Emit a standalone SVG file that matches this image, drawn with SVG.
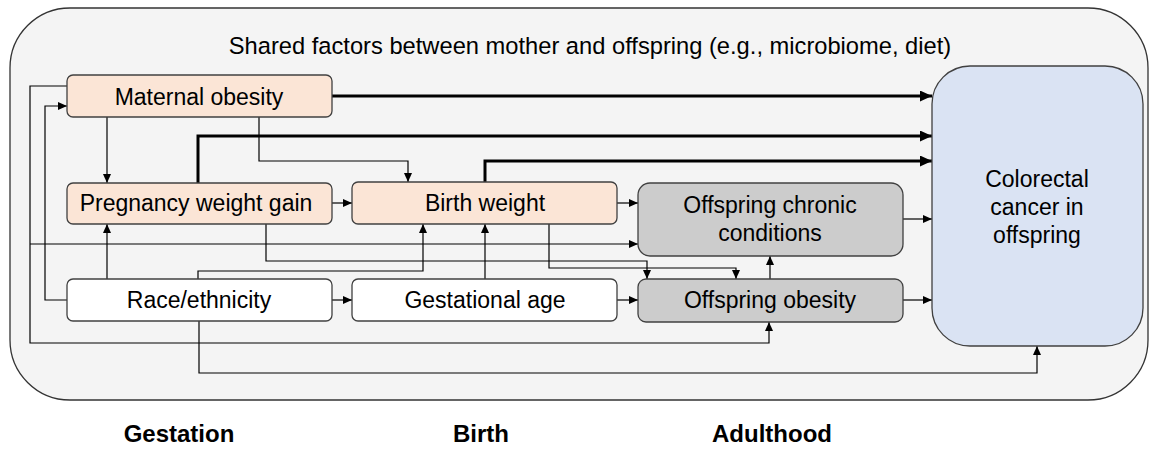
<svg xmlns="http://www.w3.org/2000/svg" width="1157" height="449" viewBox="0 0 1157 449">
<style>
.box{stroke:#404040;stroke-width:1.3}
.peach{fill:#fbe5d6}
.white{fill:#ffffff}
.gray{fill:#cccccc}
.blue{fill:#dae3f3}
.t{font-family:"Liberation Sans",Arial,sans-serif;font-size:23px;fill:#000;text-anchor:middle}
.title{font-size:23.7px}
.b{font-family:"Liberation Sans",Arial,sans-serif;font-size:24px;font-weight:bold;fill:#000;text-anchor:middle}
.thin{fill:none;stroke:#000;stroke-width:1.2;marker-end:url(#a)}
.thick{fill:none;stroke:#000;stroke-width:3;marker-end:url(#A)}
</style>
<defs>
<marker id="a" markerUnits="userSpaceOnUse" markerWidth="9" markerHeight="8" refX="9" refY="4" orient="auto"><path d="M0,0 L9,4 L0,8 z" fill="#000"/></marker>
<marker id="A" markerUnits="userSpaceOnUse" markerWidth="12" markerHeight="11" refX="12" refY="5.5" orient="auto"><path d="M0,0 L12,5.5 L0,11 z" fill="#000"/></marker>
</defs>
<rect width="1157" height="449" fill="#fff"/>
<g id="container">
<rect x="10" y="8" width="1138" height="392" rx="60" fill="#f4f4f4" stroke="#333" stroke-width="1.3"/>
<text class="t title" x="590" y="54">Shared factors between mother and offspring (e.g., microbiome, diet)</text>
</g>
<g id="connectors">
<path class="thick" d="M332,96 H932"/>
<path class="thick" d="M198,183 V136 H932"/>
<path class="thick" d="M485,182 V161 H932"/>
<path class="thin" d="M107,117 V183"/>
<path class="thin" d="M259,117 V161 H408 V182"/>
<path class="thin" d="M332,203 H352"/>
<path class="thin" d="M617,203 H638"/>
<path class="thin" d="M332,300 H352"/>
<path class="thin" d="M617,300 H638"/>
<path class="thin" d="M903,219 H932"/>
<path class="thin" d="M903,300 H932"/>
<path class="thin" d="M770,279 V256"/>
<path class="thin" d="M107,279 V224"/>
<path class="thin" d="M67,300 H45 V106 H67"/>
<path class="thin" d="M67,86 H30 V343 H769 V322"/>
<path class="thin" d="M30,244 H638"/>
<path class="thin" d="M266,224 V261 H647 V279"/>
<path class="thin" d="M549,224 V268 H736 V279"/>
<path class="thin" d="M198,279 V271 H423 V224"/>
<path class="thin" d="M485,279 V224"/>
<path class="thin" d="M199,321 V373 H1037 V346"/>
</g>
<g id="maternal-obesity">
<rect class="box peach" x="67" y="75" width="265" height="42" rx="6"/>
<text class="t" x="199" y="105">Maternal obesity</text>
</g>
<g id="pregnancy-weight-gain">
<rect class="box peach" x="67" y="183" width="265" height="41" rx="6"/>
<text class="t" x="196" y="211">Pregnancy weight gain</text>
</g>
<g id="race-ethnicity">
<rect class="box white" x="67" y="279" width="265" height="42" rx="6"/>
<text class="t" x="199" y="308">Race/ethnicity</text>
</g>
<g id="birth-weight">
<rect class="box peach" x="352" y="182" width="265" height="42" rx="6"/>
<text class="t" x="485" y="211">Birth weight</text>
</g>
<g id="gestational-age">
<rect class="box white" x="352" y="279" width="265" height="42" rx="6"/>
<text class="t" x="485" y="308">Gestational age</text>
</g>
<g id="offspring-chronic-conditions">
<rect class="box gray" x="638" y="183" width="265" height="73" rx="12"/>
<text class="t" x="770" y="213">Offspring chronic</text>
<text class="t" x="770" y="241">conditions</text>
</g>
<g id="offspring-obesity">
<rect class="box gray" x="638" y="279" width="265" height="43" rx="8"/>
<text class="t" x="770" y="308">Offspring obesity</text>
</g>
<g id="colorectal-cancer">
<rect class="box blue" x="932" y="66" width="211" height="280" rx="38"/>
<text class="t" x="1037" y="187">Colorectal</text>
<text class="t" x="1037" y="215">cancer in</text>
<text class="t" x="1037" y="243">offspring</text>
</g>
<g id="timeline">
<text class="b" x="179" y="442">Gestation</text>
<text class="b" x="481" y="442">Birth</text>
<text class="b" x="772" y="442">Adulthood</text>
</g>
</svg>
